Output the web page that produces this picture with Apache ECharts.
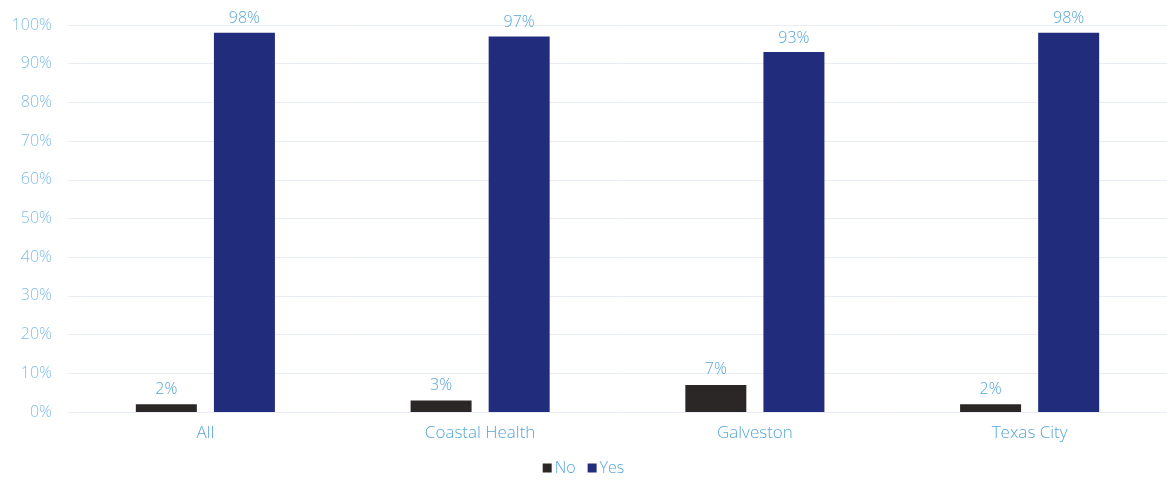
<!DOCTYPE html>
<html>
<head>
<meta charset="utf-8">
<script src="https://cdn.jsdelivr.net/npm/echarts@6/dist/echarts.min.js"></script>
<style>
  html, body { margin: 0; padding: 0; background: #ffffff; }
  #chart { width: 1167px; height: 483px; }
</style>
</head>
<body>
<div id="chart"></div>
<script>
// Survey responses by area, percent
const categories = ['All', 'Coastal Health', 'Galveston', 'Texas City'];
const noValues = [2, 3, 7, 2];
const yesValues = [98, 97, 93, 98];
const seriesNames = ['No', 'Yes'];

const labelBlue = '#57a6d9';
const fontFamily = '"Open Sans", Lato, sans-serif';

const chart = echarts.init(document.getElementById('chart'));
chart.setOption({
  backgroundColor: '#ffffff',
  animation: false,
  grid: { left: 68, right: 0, top: 25, bottom: 71 },
  legend: {
    bottom: 2,
    left: 'center',
    itemWidth: 9,
    itemHeight: 9,
    itemGap: 12,
    icon: 'rect',
    textStyle: { color: labelBlue, fontSize: 16, fontFamily: fontFamily, fontWeight: 300, padding: [0, 0, 0, -2] },
    data: seriesNames
  },
  xAxis: {
    type: 'category',
    data: categories,
    axisLine: { show: false },
    axisTick: { show: false },
    axisLabel: { color: labelBlue, fontSize: 17, fontFamily: fontFamily, fontWeight: 300, margin: 13 }
  },
  yAxis: {
    type: 'value',
    min: 0,
    max: 100,
    interval: 10,
    axisLabel: {
      formatter: '{value}%',
      color: '#7fbde6',
      fontSize: 16,
      fontFamily: fontFamily,
      fontWeight: 300,
      margin: 16
    },
    splitLine: { lineStyle: { color: '#e9eef4', width: 1 } },
    axisLine: { show: false },
    axisTick: { show: false }
  },
  series: [
    {
      name: seriesNames[0],
      type: 'bar',
      data: noValues,
      barWidth: 61,
      barGap: '28%',
      itemStyle: { color: '#2b2727' },
      label: {
        show: true, position: 'top', distance: 7,
        formatter: '{c}%', color: labelBlue, fontSize: 16, fontFamily: fontFamily, fontWeight: 300
      }
    },
    {
      name: seriesNames[1],
      type: 'bar',
      data: yesValues,
      barWidth: 61,
      itemStyle: { color: '#212c7c' },
      label: {
        show: true, position: 'top', distance: 6,
        formatter: '{c}%', color: labelBlue, fontSize: 16, fontFamily: fontFamily, fontWeight: 300
      }
    }
  ]
});
</script>
</body>
</html>
